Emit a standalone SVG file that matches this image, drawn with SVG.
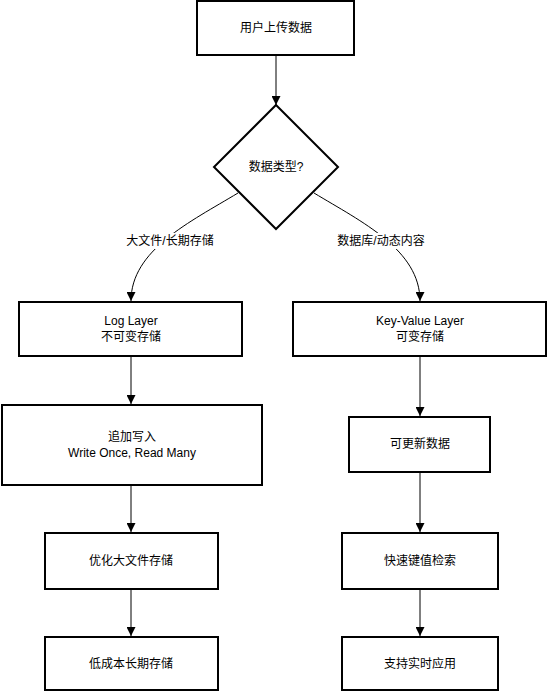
<svg xmlns="http://www.w3.org/2000/svg" width="547" height="692" viewBox="0 0 547 692">
<defs>
<marker id="arr" viewBox="0 0 10 10" refX="10" refY="5" markerWidth="9" markerHeight="9" markerUnits="userSpaceOnUse" orient="auto">
<path d="M0,0 L10,5 L0,10 Z" fill="#000"/>
</marker>
<style>
.box{fill:#fff;stroke:#000;stroke-width:2}
.t{font-family:"Liberation Sans","Noto Sans CJK SC",sans-serif;font-size:12px;fill:#000;text-anchor:middle;dominant-baseline:central}
.e{fill:none;stroke:#000;stroke-width:1;marker-end:url(#arr)}
.lb{fill:#fff}
</style>
</defs>
<g id="connectors">
<path class="e" d="M276,55 L276,105"/>
<path class="e" d="M238,193 C190,222 131,250 131,301"/>
<path class="e" d="M314,193 C362,222 420,250 420,301"/>
<path class="e" d="M131,356 L131,404"/>
<path class="e" d="M420,356 L420,416"/>
<path class="e" d="M131,485 L131,532"/>
<path class="e" d="M420,472 L420,532"/>
<path class="e" d="M131,589 L131,636"/>
<path class="e" d="M420,589 L420,636"/>
<rect class="lb" x="128" y="233" width="84" height="16"/>
<text class="t" x="170" y="241">大文件/长期存储</text>
<rect class="lb" x="339" y="233" width="84" height="16"/>
<text class="t" x="381" y="241">数据库/动态内容</text>
</g>
<g id="n_upload"><rect class="box" x="197" y="1" width="157" height="54"/><text class="t" x="276" y="28">用户上传数据</text></g>
<g id="n_type"><path class="box" d="M276,105 L338,167 L276,229 L214,167 Z"/><text class="t" x="276" y="167">数据类型?</text></g>
<g id="n_log"><rect class="box" x="19" y="302" width="223" height="54"/><text class="t" x="131" y="321">Log Layer</text><text class="t" x="131" y="337">不可变存储</text></g>
<g id="n_kv"><rect class="box" x="293" y="302" width="253" height="54"/><text class="t" x="420" y="321">Key-Value Layer</text><text class="t" x="420" y="337">可变存储</text></g>
<g id="n_append"><rect class="box" x="2" y="405" width="260" height="80"/><text class="t" x="132" y="437">追加写入</text><text class="t" x="132" y="453">Write Once, Read Many</text></g>
<g id="n_update"><rect class="box" x="349" y="417" width="141" height="55"/><text class="t" x="420" y="444">可更新数据</text></g>
<g id="n_opt"><rect class="box" x="45" y="533" width="173" height="56"/><text class="t" x="131" y="561">优化大文件存储</text></g>
<g id="n_fast"><rect class="box" x="342" y="533" width="156" height="56"/><text class="t" x="420" y="561">快速键值检索</text></g>
<g id="n_low"><rect class="box" x="45" y="637" width="173" height="53"/><text class="t" x="131" y="664">低成本长期存储</text></g>
<g id="n_rt"><rect class="box" x="342" y="637" width="156" height="53"/><text class="t" x="420" y="664">支持实时应用</text></g>
</svg>
